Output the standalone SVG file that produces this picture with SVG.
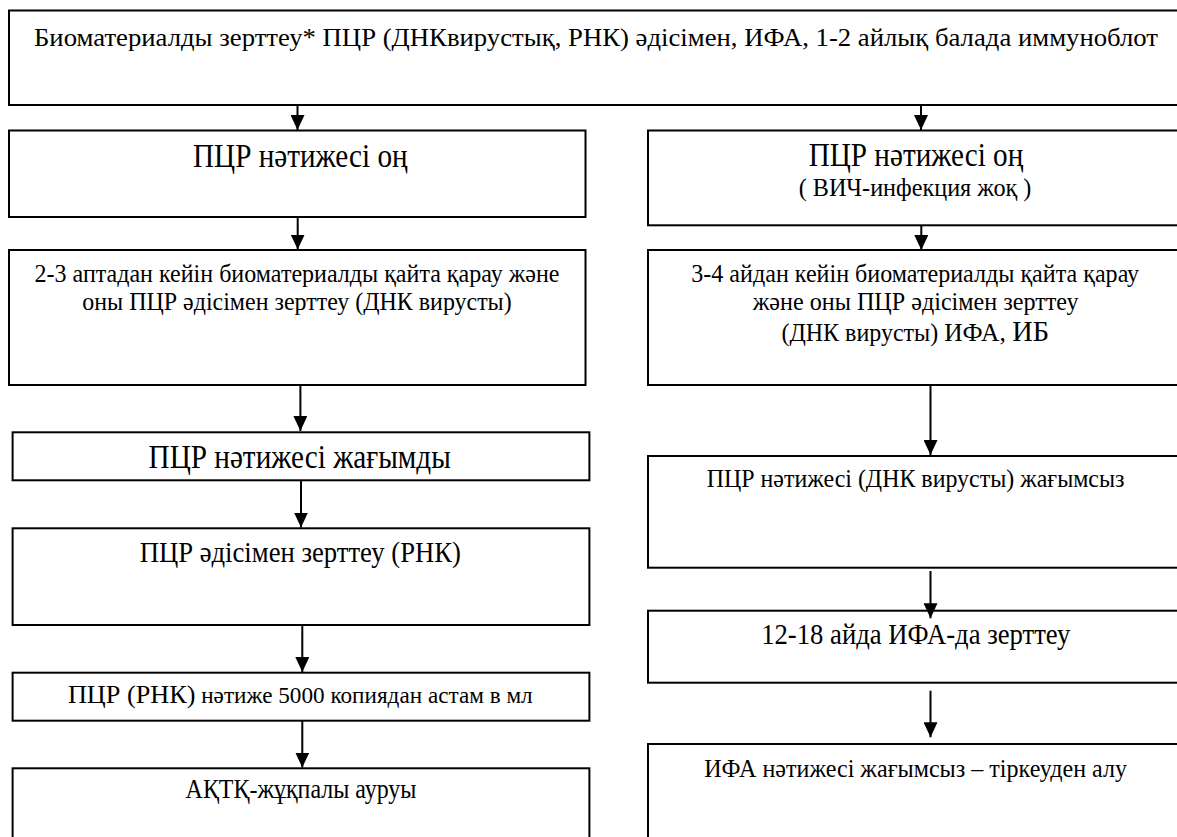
<svg xmlns="http://www.w3.org/2000/svg" width="1177" height="837" viewBox="0 0 1177 837">
  <style>
    .box { fill: none; stroke: #000; stroke-width: 2; }
    .t { font-family: 'Liberation Serif', 'Times New Roman', 'DejaVu Serif', serif; fill: #000; text-anchor: middle; }
    .edge { stroke: #000; stroke-width: 2; fill: none; marker-end: url(#head); }
  </style>
  <defs>
    <marker id="head" markerUnits="userSpaceOnUse" markerWidth="16" markerHeight="14" refX="15" refY="7" orient="auto">
      <path d="M0,0 L15,7 L0,14 Z" fill="#000"/>
    </marker>
  </defs>
  <rect width="1177" height="837" fill="#fff"/>

  <!-- top step -->
  <g id="n-start">
    <rect class="box" x="9" y="10.5" width="1190" height="94.5"/>
    <text class="t" x="596" y="46" font-size="26" textLength="1124" lengthAdjust="spacingAndGlyphs">Биоматериалды зерттеу* ПЦР (ДНКвирустық, РНК) әдісімен, ИФА, 1-2 айлық балада иммуноблот</text>
  </g>

  <!-- left branch -->
  <g id="n-l1">
    <rect class="box" x="9" y="130.5" width="576.5" height="86.5"/>
    <text class="t" x="300.3" y="166.5" font-size="33" textLength="214.6" lengthAdjust="spacingAndGlyphs">ПЦР нәтижесі оң</text>
  </g>
  <g id="n-l2">
    <rect class="box" x="9" y="250" width="576.5" height="135"/>
    <text class="t" x="297" y="281.7" font-size="25" textLength="525" lengthAdjust="spacingAndGlyphs">2-3 аптадан кейін биоматериалды қайта қарау және</text>
    <text class="t" x="297" y="310" font-size="25" textLength="429.4" lengthAdjust="spacingAndGlyphs">оны ПЦР әдісімен зерттеу (ДНК вирусты)</text>
  </g>
  <g id="n-l3">
    <rect class="box" x="12.6" y="432.3" width="576.8" height="48"/>
    <text class="t" x="299.7" y="468.3" font-size="33" textLength="302.3" lengthAdjust="spacingAndGlyphs">ПЦР нәтижесі жағымды</text>
  </g>
  <g id="n-l4">
    <rect class="box" x="12.6" y="528.3" width="576.8" height="96.7"/>
    <text class="t" x="300.3" y="561.7" font-size="29" textLength="321.3" lengthAdjust="spacingAndGlyphs">ПЦР әдісімен зерттеу (РНК)</text>
  </g>
  <g id="n-l5">
    <rect class="box" x="12.6" y="672.7" width="576.8" height="48"/>
    <text class="t" x="300.3" y="703.3" textLength="464.7" lengthAdjust="spacingAndGlyphs"><tspan font-size="26">ПЦР (РНК)</tspan><tspan font-size="23"> нәтиже 5000 копиядан астам в мл</tspan></text>
  </g>
  <g id="n-l6">
    <rect class="box" x="12.6" y="768.3" width="576.8" height="90"/>
    <text class="t" x="301" y="797.5" font-size="27" textLength="230.8" lengthAdjust="spacingAndGlyphs">АҚТҚ-жұқпалы ауруы</text>
  </g>

  <!-- right branch -->
  <g id="n-r1">
    <rect class="box" x="648" y="130.5" width="560" height="94.8"/>
    <text class="t" x="916" y="166" font-size="33" textLength="214.6" lengthAdjust="spacingAndGlyphs">ПЦР нәтижесі оң</text>
    <text class="t" x="915" y="196" font-size="26" textLength="232.7" lengthAdjust="spacingAndGlyphs">( ВИЧ-инфекция жоқ )</text>
  </g>
  <g id="n-r2">
    <rect class="box" x="648" y="250" width="560" height="135"/>
    <text class="t" x="915.2" y="281.7" font-size="24.5" textLength="447.9" lengthAdjust="spacingAndGlyphs">3-4 айдан кейін биоматериалды қайта қарау</text>
    <text class="t" x="915.6" y="310" font-size="24.5" textLength="325.8" lengthAdjust="spacingAndGlyphs">және оны ПЦР әдісімен зерттеу</text>
    <text class="t" x="915.2" y="341" textLength="267.6" lengthAdjust="spacingAndGlyphs"><tspan font-size="24.5">(ДНК вирусты) </tspan><tspan font-size="26">ИФА, </tspan><tspan font-size="29">ИБ</tspan></text>
  </g>
  <g id="n-r3">
    <rect class="box" x="648" y="456" width="560" height="111.7"/>
    <text class="t" x="915.6" y="487.3" font-size="25.5" textLength="417.8" lengthAdjust="spacingAndGlyphs">ПЦР нәтижесі (ДНК вирусты) жағымсыз</text>
  </g>
  <g id="n-r4">
    <rect class="box" x="648" y="610.7" width="560" height="72"/>
    <text class="t" x="915.8" y="644" font-size="29" textLength="309.2" lengthAdjust="spacingAndGlyphs">12-18 айда ИФА-да зерттеу</text>
  </g>
  <g id="n-r5">
    <rect class="box" x="648" y="744" width="560" height="110"/>
    <text class="t" x="915.6" y="776.7" font-size="25.5" textLength="422.8" lengthAdjust="spacingAndGlyphs">ИФА нәтижесі жағымсыз – тіркеуден алу</text>
  </g>

  <!-- connectors -->
  <g id="connectors">
    <line class="edge" x1="297.5" y1="105" x2="297.5" y2="130"/>
    <line class="edge" x1="921" y1="105" x2="921" y2="130"/>
    <line class="edge" x1="297.7" y1="217" x2="297.7" y2="249.5"/>
    <line class="edge" x1="921.3" y1="225.3" x2="921.3" y2="250"/>
    <line class="edge" x1="300.4" y1="385" x2="300.4" y2="431"/>
    <line class="edge" x1="930.5" y1="385" x2="930.5" y2="455"/>
    <line class="edge" x1="301" y1="480.3" x2="301" y2="527.5"/>
    <line class="edge" x1="930.5" y1="571" x2="930.5" y2="618.3"/>
    <line class="edge" x1="302.3" y1="625" x2="302.3" y2="672"/>
    <line class="edge" x1="930.5" y1="690.7" x2="930.5" y2="737.3"/>
    <line class="edge" x1="302.3" y1="720.7" x2="302.3" y2="767.5"/>
  </g>
</svg>
